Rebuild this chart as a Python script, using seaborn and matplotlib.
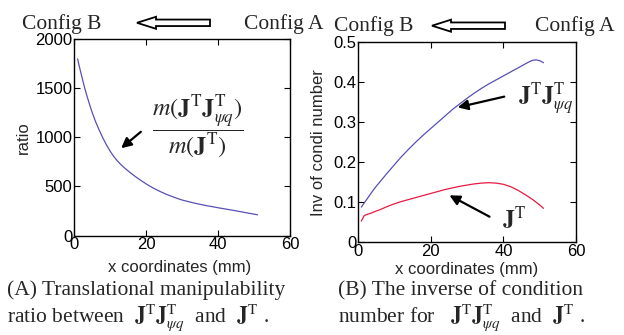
import numpy as np
import pandas as pd
import matplotlib
matplotlib.use("Agg")
import matplotlib.pyplot as plt
import seaborn as sns
from matplotlib.patches import FancyArrow

# ---- data ----
ratio_x = [1, 1.5, 2, 2.5, 3, 3.5, 4, 4.5, 5, 6, 7, 8, 9, 10, 11, 12, 13, 14, 15,
           16, 17, 18, 19, 20, 21, 22, 24, 26, 28, 30, 33, 36, 40, 44, 48, 51]
ratio_y = [1800, 1720, 1645, 1570, 1500, 1435, 1375, 1315, 1260, 1160, 1075, 995,
           925, 862, 808, 762, 724, 690, 659, 630, 602, 576, 551, 527, 505, 484,
           447, 415, 387, 362, 334, 310, 283, 258, 231, 211]

inv_x_blue = [1, 2, 3, 4, 5, 6, 7, 8, 10, 12, 14, 16, 18, 20, 22, 24, 26, 28, 30,
              32, 34, 36, 38, 40, 42, 44, 46, 47, 48, 49, 50, 51]
inv_y_blue = [0.088, 0.101, 0.114, 0.127, 0.139, 0.150, 0.161, 0.172, 0.193, 0.214,
              0.233, 0.251, 0.268, 0.284, 0.300, 0.316, 0.332, 0.346, 0.360, 0.373,
              0.385, 0.396, 0.406, 0.416, 0.426, 0.436, 0.446, 0.451, 0.455, 0.456,
              0.454, 0.449]

inv_x_red = [1, 1.8, 3, 4, 5, 6, 8, 10, 12, 14, 16, 18, 20, 22, 24, 26, 28, 30, 32,
             34, 36, 38, 40, 42, 44, 46, 48, 50, 51]
inv_y_red = [0.053, 0.067, 0.071, 0.074, 0.078, 0.081, 0.089, 0.096, 0.102, 0.107,
             0.112, 0.117, 0.122, 0.127, 0.132, 0.136, 0.140, 0.143, 0.146, 0.148,
             0.149, 0.148, 0.145, 0.139, 0.130, 0.119, 0.107, 0.093, 0.085]

x_ticks = [0, 20, 40, 60]
ratio_ticks = [0, 500, 1000, 1500, 2000]
inv_ticks = [0, 0.1, 0.2, 0.3, 0.4, 0.5]
inv_tick_labels = ["0", "0.1", "0.2", "0.3", "0.4", "0.5"]

BLUE = "#5850b4"
RED = "#e61a40"

sns.set_style("ticks")
plt.rcParams["font.family"] = ["Liberation Sans", "DejaVu Sans"]
plt.rcParams["mathtext.fontset"] = "stix"
SERIF = ["Liberation Serif", "DejaVu Serif"]

fig = plt.figure(figsize=(6.24, 3.35), dpi=100)
W, H = 624, 335


def px_axes(left, top, right, bottom):
    return fig.add_axes([left / W, 1 - bottom / H, (right - left) / W, (bottom - top) / H])


def style(ax):
    for s in ax.spines.values():
        s.set_visible(True)
        s.set_linewidth(1.0)
        s.set_color("black")
    ax.tick_params(direction="in", length=4, width=0.8, top=True, right=True,
                   labelsize=12, pad=1, colors="black")


axA = px_axes(74, 39.3, 290, 235.5)
dfA = pd.DataFrame({"x": ratio_x, "y": ratio_y})
sns.lineplot(data=dfA, x="x", y="y", ax=axA, color=BLUE, linewidth=0.9)
axA.set_xlim(0, 60)
axA.set_ylim(0, 2000)
axA.set_xticks(x_ticks)
axA.set_yticks(ratio_ticks)
style(axA)
axA.set_xlabel("x coordinates (mm)", fontsize=12)
axA.set_ylabel("ratio", fontsize=12)
axA.xaxis.set_label_coords(0.49, -0.125)
axA.yaxis.set_label_coords(-0.20, 0.5)

axB = px_axes(357.7, 42.3, 576.3, 242.3)
dfB1 = pd.DataFrame({"x": inv_x_blue, "y": inv_y_blue})
dfB2 = pd.DataFrame({"x": inv_x_red, "y": inv_y_red})
sns.lineplot(data=dfB1, x="x", y="y", ax=axB, color=BLUE, linewidth=0.9)
sns.lineplot(data=dfB2, x="x", y="y", ax=axB, color=RED, linewidth=0.9)
axB.set_xlim(0, 60)
axB.set_ylim(0, 0.5)
axB.set_xticks(x_ticks)
axB.set_yticks(inv_ticks)
axB.set_yticklabels(inv_tick_labels)
style(axB)
axB.set_xlabel("x coordinates (mm)", fontsize=12)
axB.set_ylabel("Inv of condi number", fontsize=12)
axB.xaxis.set_label_coords(0.5, -0.1)
axB.yaxis.set_label_coords(-0.145, 0.5)

# ---- overlay in pixel coordinates for texts and arrows ----
ov = fig.add_axes([0, 0, 1, 1], zorder=10)
ov.set_xlim(0, W)
ov.set_ylim(H, 0)
ov.axis("off")
ov.patch.set_alpha(0)

tfs = 15.5
ov.text(22, 29.3, "Config B", fontsize=tfs, family=SERIF, va="baseline")
ov.text(244, 29.3, "Config A", fontsize=tfs, family=SERIF, va="baseline")
ov.text(334, 30.7, "Config B", fontsize=tfs, family=SERIF, va="baseline")
ov.text(535, 30.7, "Config A", fontsize=tfs, family=SERIF, va="baseline")

for (x0, x1, yc) in [(210, 137, 22.8), (505, 432, 25.7)]:
    ov.add_patch(FancyArrow(x0, yc, x1 - x0, 0, width=6.5, head_width=12,
                            head_length=19, length_includes_head=True,
                            fc="white", ec="black", lw=1.3))

J = r"\mathbf{J}^{\mathrm{T}}"
JJ = r"\mathbf{J}^{\mathrm{T}}\mathbf{J}^{\mathrm{T}}_{\psi q}"

ov.text(198, 127, r"$\dfrac{m(" + JJ + r")}{m(" + J + r")}$", fontsize=17.5,
        ha="center", va="center")
ov.annotate("", xy=(119, 150), xytext=(143, 130),
            arrowprops=dict(arrowstyle="-|>,head_length=0.6,head_width=0.3",
                            color="black", lw=1.6))

ov.text(518, 104, "$" + JJ + "$", fontsize=17, va="baseline")
ov.annotate("", xy=(455, 108), xytext=(507, 96),
            arrowprops=dict(arrowstyle="-|>,head_length=0.6,head_width=0.3",
                            color="black", lw=1.6))
ov.text(502, 227, "$" + J + "$", fontsize=17, va="baseline")
ov.annotate("", xy=(447, 194), xytext=(492, 218),
            arrowprops=dict(arrowstyle="-|>,head_length=0.6,head_width=0.3",
                            color="black", lw=1.6))

cfs = 15.5
ov.text(7, 295, "(A) Translational manipulability", fontsize=cfs, family=SERIF,
        va="baseline")
ov.text(7, 322, "ratio between  $" + JJ + "$  and  $" + J + "$ .", fontsize=cfs,
        family=SERIF, va="baseline")
ov.text(338, 295, "(B) The inverse of condition", fontsize=cfs, family=SERIF,
        va="baseline")
ov.text(338, 322, "number for   $" + JJ + "$  and  $" + J + "$ .", fontsize=cfs,
        family=SERIF, va="baseline")

fig.savefig("out.png", dpi=100)
